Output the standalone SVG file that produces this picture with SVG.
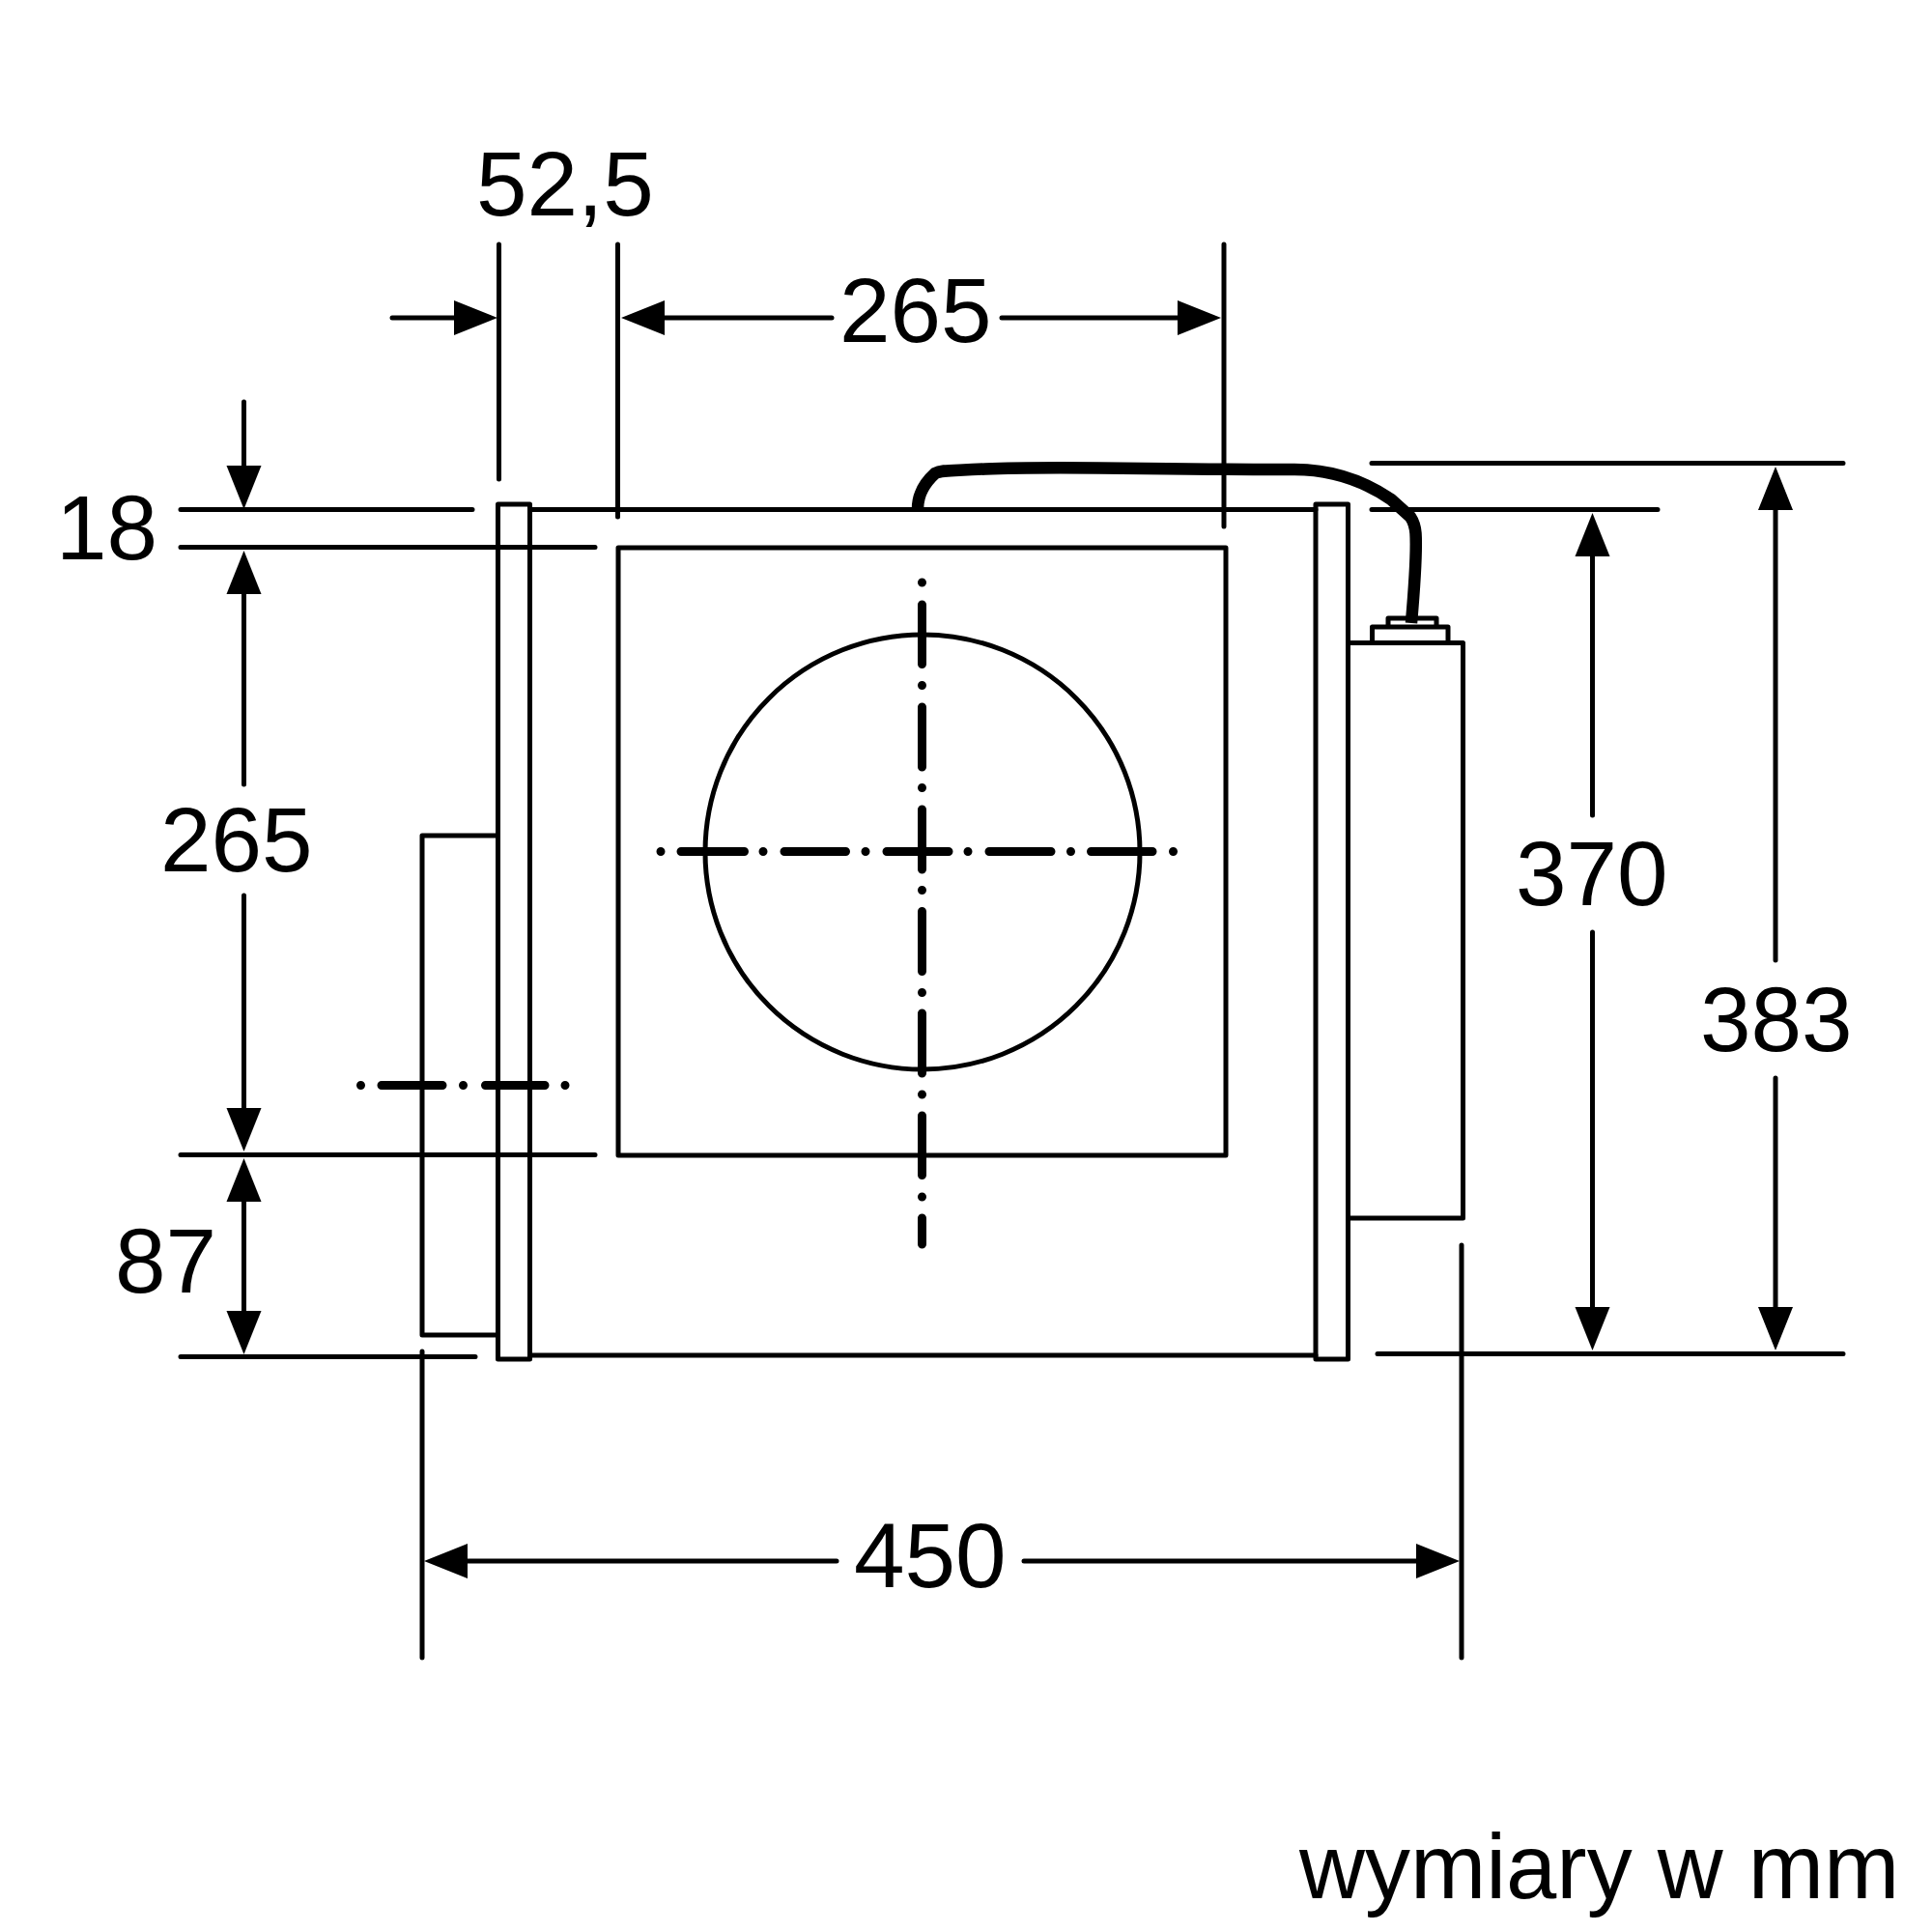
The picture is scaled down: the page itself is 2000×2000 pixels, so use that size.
<svg xmlns="http://www.w3.org/2000/svg" width="2000" height="2000" viewBox="0 0 2000 2000">
<style>
.l{fill:none;stroke:#000;stroke-width:5;stroke-linecap:round;stroke-linejoin:round}
.c{fill:none;stroke:#000;stroke-width:9;stroke-linecap:round}
.t{font-family:"Liberation Sans",Arial,sans-serif;font-size:94.5px;fill:#000}
</style>
<defs>
<marker id="a" markerUnits="userSpaceOnUse" markerWidth="46" markerHeight="38" refX="0" refY="19" orient="auto"><path d="M0 1L45 19L0 37Z" fill="#000"/></marker>
</defs>
<rect width="2000" height="2000" fill="#fff"/>
<g id="extension-lines">
<path class="l" d="M516.5 253V496M639.5 253V535M1267 253V545M187 527.5H489M187 566.5H616M187 1195.5H616M187 1404.5H492M437 1399V1716M1513 1289V1716M1420 479.5H1908M1420 527.5H1716M1426 1401.5H1908"/>
</g>
<g id="dimension-arrows">
<line class="l" x1="406" y1="329" x2="470" y2="329" marker-end="url(#a)"/>
<line class="l" x1="861" y1="329" x2="688" y2="329" marker-end="url(#a)"/>
<line class="l" x1="1037" y1="329" x2="1219" y2="329" marker-end="url(#a)"/>
<line class="l" x1="252.5" y1="416" x2="252.5" y2="482" marker-end="url(#a)"/>
<line class="l" x1="252.5" y1="812" x2="252.5" y2="615" marker-end="url(#a)"/>
<line class="l" x1="252.5" y1="927" x2="252.5" y2="1147" marker-end="url(#a)"/>
<line class="l" x1="252.5" y1="1300" x2="252.5" y2="1244" marker-end="url(#a)"/>
<line class="l" x1="252.5" y1="1300" x2="252.5" y2="1357" marker-end="url(#a)"/>
<line class="l" x1="1648.5" y1="844" x2="1648.5" y2="576" marker-end="url(#a)"/>
<line class="l" x1="1648.5" y1="965" x2="1648.5" y2="1353" marker-end="url(#a)"/>
<line class="l" x1="1838" y1="994" x2="1838" y2="528" marker-end="url(#a)"/>
<line class="l" x1="1838" y1="1116" x2="1838" y2="1353" marker-end="url(#a)"/>
<line class="l" x1="866" y1="1616" x2="484" y2="1616" marker-end="url(#a)"/>
<line class="l" x1="1060" y1="1616" x2="1466" y2="1616" marker-end="url(#a)"/>
</g>
<g id="appliance">
<path class="l" d="M548.5 527.5H1362M548.5 1403H1362"/>
<rect id="left-column" class="l" x="515.5" y="522" width="33" height="885"/>
<rect id="right-column" class="l" x="1362" y="522" width="33.5" height="885"/>
<path id="left-box" class="l" d="M515.5 865H437V1382H515.5"/>
<rect id="inner-square" class="l" x="640" y="567" width="629" height="629"/>
<circle id="opening" class="l" cx="955" cy="882" r="225"/>
<path id="right-box" class="l" d="M1395.5 665.5H1514.5V1261H1395.5"/>
<path id="connector" class="l" d="M1420.5 665V649H1499V665M1437 649V640H1487V649"/>
</g>
<path id="cable" d="M950 527C950 512 958 499 968 490C975 486 985 487.5 1020 485.5C1100 482 1200 486.5 1340 486C1385 486 1418 502 1440 517L1460 535C1464 541 1465 546 1465.5 552C1467 575 1464 610 1461 645" fill="none" stroke="#000" stroke-width="12.5" stroke-linejoin="round"/>
<g id="centre-lines">
<path class="c" d="M954.5 603v.01M954.5 626V687.5M954.5 709.5v.01M954.5 732V794M954.5 815.5v.01M954.5 838V900M954.5 921.5v.01M954.5 943.5V1005.5M954.5 1027.5v.01M954.5 1049V1111M954.5 1133v.01M954.5 1155V1216.5M954.5 1239v.01M954.5 1261V1288"/>
<path class="c" d="M684 881.5h.01M705 881.5H770.5M790 881.5h.01M812 881.5H875.5M896 881.5h.01M918 881.5H982M1002 881.5h.01M1024 881.5H1088M1108.5 881.5h.01M1129.5 881.5H1193M1214.5 881.5h.01"/>
<path class="c" d="M373.5 1123.5h.01M395 1123.5H458M479.5 1123.5h.01M502.5 1123.5H564M585 1123.5h.01"/>
</g>
<g id="labels" class="t">
<text x="493" y="223">52,5</text>
<text x="869" y="354">265</text>
<text x="58" y="579">18</text>
<text x="166" y="902">265</text>
<text x="119" y="1338">87</text>
<text x="1569" y="937">370</text>
<text x="1760" y="1088">383</text>
<text x="884" y="1643">450</text>
<text x="1345" y="1965" font-size="94">wymiary w mm</text>
</g>
</svg>
